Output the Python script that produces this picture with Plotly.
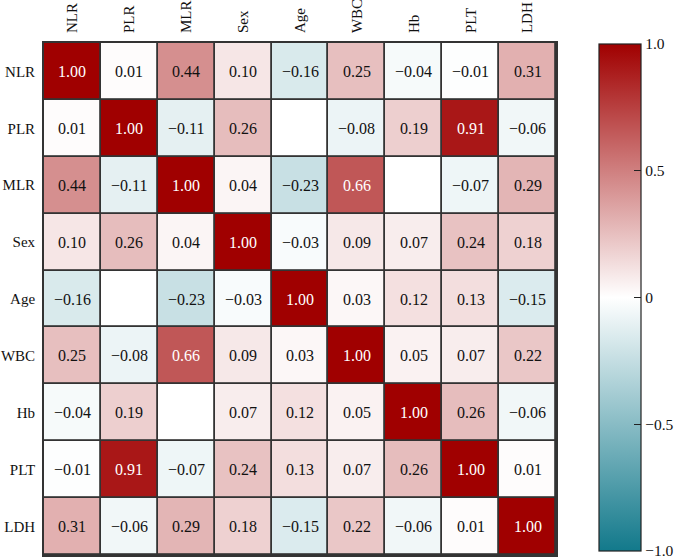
import plotly.graph_objects as go

labels = ["NLR", "PLR", "MLR", "Sex", "Age", "WBC", "Hb", "PLT", "LDH"]

row_NLR = [1.00, 0.01, 0.44, 0.10, -0.16, 0.25, -0.04, -0.01, 0.31]
row_PLR = [0.01, 1.00, -0.11, 0.26, None, -0.08, 0.19, 0.91, -0.06]
row_MLR = [0.44, -0.11, 1.00, 0.04, -0.23, 0.66, None, -0.07, 0.29]
row_Sex = [0.10, 0.26, 0.04, 1.00, -0.03, 0.09, 0.07, 0.24, 0.18]
row_Age = [-0.16, None, -0.23, -0.03, 1.00, 0.03, 0.12, 0.13, -0.15]
row_WBC = [0.25, -0.08, 0.66, 0.09, 0.03, 1.00, 0.05, 0.07, 0.22]
row_Hb = [-0.04, 0.19, None, 0.07, 0.12, 0.05, 1.00, 0.26, -0.06]
row_PLT = [-0.01, 0.91, -0.07, 0.24, 0.13, 0.07, 0.26, 1.00, 0.01]
row_LDH = [0.31, -0.06, 0.29, 0.18, -0.15, 0.22, -0.06, 0.01, 1.00]

rows = [row_NLR, row_PLR, row_MLR, row_Sex, row_Age, row_WBC, row_Hb, row_PLT, row_LDH]

cb_vals = [1.0, 0.5, 0.0, -0.5, -1.0]
cb_text = ["1.0", "0.5", "0", "\u22120.5", "\u22121.0"]

FONT = "Liberation Serif"

z = [[(v if v is not None else 0.0) for v in r] for r in rows]

def fmt(v):
    s = f"{abs(v):.2f}"
    return ("\u2212" + s) if v < 0 else s

fig = go.Figure()
fig.add_trace(go.Heatmap(
    z=z, x=labels, y=labels,
    zmin=-1, zmax=1,
    colorscale=[[0, "#12798b"], [0.5, "#ffffff"], [1, "#a00000"]],
    xgap=1.8, ygap=1.8,
    hoverinfo="skip",
    colorbar=dict(
        x=(599 - 44) / 512, xanchor="left", xref="paper",
        y=1.0 - 1 / 512, yanchor="top", len=507 / 512, lenmode="fraction",
        thickness=42, thicknessmode="pixels",
        outlinecolor="#222", outlinewidth=1.2,
        tickvals=cb_vals, ticktext=cb_text,
        ticks="inside", ticklen=7, tickcolor="#222", tickwidth=1.2,
        ticklabeloverflow="allow",
        tickfont=dict(family=FONT, size=15.5, color="#111"),
        xpad=0, ypad=0,
    ),
))

annotations = []
for i, r in enumerate(rows):
    for j, v in enumerate(r):
        if v is None:
            continue
        annotations.append(dict(
            x=labels[j], y=labels[i], text=fmt(v), showarrow=False,
            font=dict(family=FONT, size=16, color="#ffffff" if v > 0.5 else "#111"),
        ))

fig.update_layout(
    width=677, height=559,
    margin=dict(l=44, r=121, t=43, b=4, autoexpand=False),
    paper_bgcolor="white", plot_bgcolor="#333",
    annotations=annotations,
    font=dict(family=FONT, size=16, color="#111"),
)
fig.update_xaxes(side="top", tickangle=-90, showgrid=False, zeroline=False,
                 showline=True, linecolor="#333", linewidth=1.8, mirror=True,
                 ticks="", ticklabelstandoff=5,
                 tickfont=dict(family=FONT, size=15, color="#111"))
fig.update_yaxes(autorange="reversed", showgrid=False, zeroline=False,
                 showline=True, linecolor="#333", linewidth=1.8, mirror=True,
                 ticks="", ticklabelstandoff=4,
                 tickfont=dict(family=FONT, size=15, color="#111"))

fig.write_html("out.html")
